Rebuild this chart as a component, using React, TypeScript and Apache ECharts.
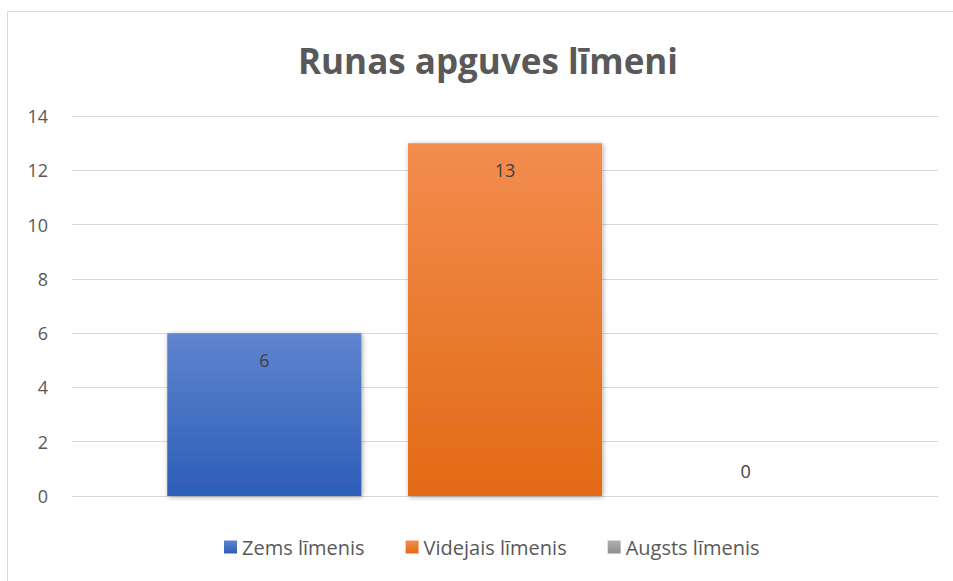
import React, { useEffect, useRef } from "react";
import * as echarts from "echarts";

const categories = ["Runas apguves līmeni"];
const seriesNames = ["Zems līmenis", "Videjais līmenis", "Augsts līmenis"];
const seriesValues = [6, 13, 0];
const yTicks = { min: 0, max: 14, interval: 2 };

const FONT = "'Open Sans', Lato, sans-serif";

const gradients = [
  ["#5f84cf", "#2c5eb7"],
  ["#f28d4e", "#e26a14"],
  ["#b0b0b0", "#8e8e8e"],
];

export default function App() {
  const ref = useRef<HTMLDivElement>(null);
  useEffect(() => {
    if (!ref.current) return;
    const chart = echarts.init(ref.current, undefined, { renderer: "svg" });
    const series = seriesNames.map((name, i) => ({
      name,
      type: "bar",
      data: [seriesValues[i]],
      barGap: "24%",
      barCategoryGap: "22%",
      itemStyle: {
        color: new echarts.graphic.LinearGradient(0, 0, 0, 1, [
          { offset: 0, color: gradients[i][0] },
          { offset: 1, color: gradients[i][1] },
        ]),
        shadowColor: "rgba(0,0,0,0.35)",
        shadowBlur: 5,
        shadowOffsetX: 1,
        shadowOffsetY: 1,
      },
      label: {
        show: true,
        position: seriesValues[i] === 0 ? "top" : "insideTop",
        distance: seriesValues[i] === 0 ? 16 : 18,
        color: "#404040",
        fontSize: 18,
        fontFamily: FONT,
      },
    }));
    chart.setOption({
      animation: false,
      textStyle: { fontFamily: FONT },
      graphic: [
        {
          type: "rect",
          shape: { x: 7.5, y: 11.5, width: 1000, height: 1000 },
          style: { fill: "none", stroke: "#d9d9d9", lineWidth: 1 },
          silent: true,
          z: -1,
        },
        {
          type: "text",
          x: 488,
          y: 60,
          style: {
            text: "Runas apguves līmeni",
            fill: "#595959",
            font: `bold 35px ${FONT}`,
            textAlign: "center",
            textVerticalAlign: "middle",
          },
        },
      ],
      legend: {
        data: seriesNames,
        bottom: 19,
        left: 219,
        icon: "rect",
        itemWidth: 13,
        itemHeight: 13,
        itemGap: 41,
        textStyle: { color: "#595959", fontSize: 20, fontFamily: FONT },
      },
      grid: { left: 72, right: 15, top: 116, bottom: 85, containLabel: false },
      xAxis: {
        type: "category",
        data: categories,
        axisLine: { show: true, lineStyle: { color: "#d9d9d9" } },
        axisTick: { show: false },
        axisLabel: { show: false },
      },
      yAxis: {
        type: "value",
        min: yTicks.min,
        max: yTicks.max,
        interval: yTicks.interval,
        axisLine: { show: false },
        axisTick: { show: false },
        axisLabel: { color: "#595959", fontSize: 18, margin: 24, fontFamily: FONT },
        splitLine: { lineStyle: { color: "#d9d9d9", width: 1 } },
      },
      series,
    });
    return () => chart.dispose();
  }, []);
  return (
    <div
      ref={ref}
      style={{ position: "fixed", left: 0, top: 0, width: 953, height: 581, background: "#fff" }}
    />
  );
}
